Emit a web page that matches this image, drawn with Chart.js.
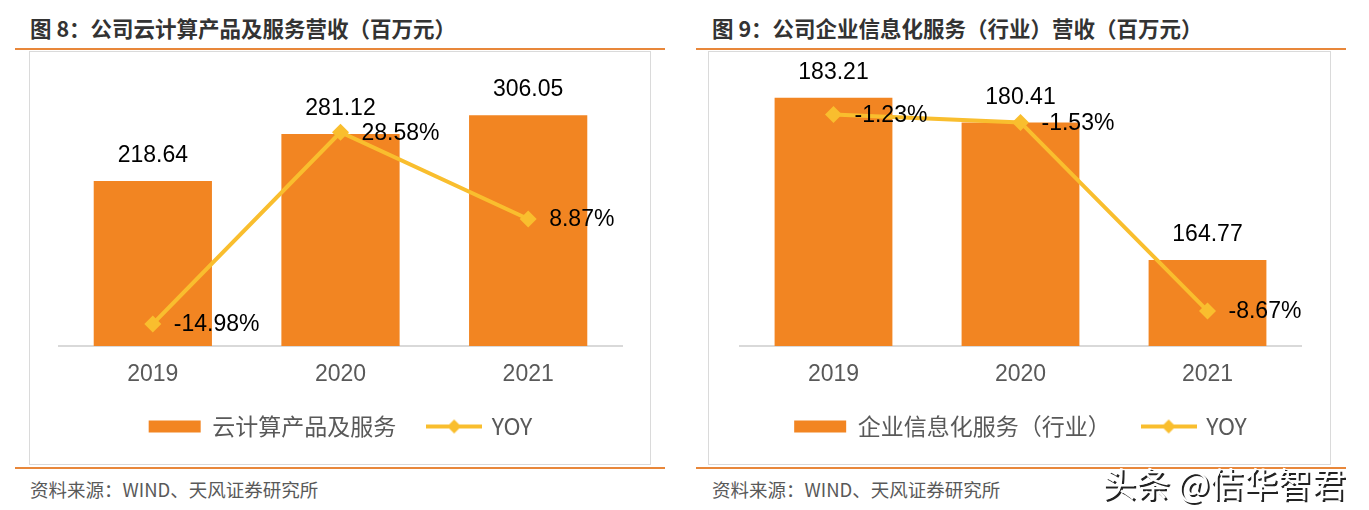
<!DOCTYPE html>
<html>
<head>
<meta charset="utf-8">
<style>
  body { margin: 0; background: #fff; width: 1369px; height: 510px; position: relative; overflow: hidden; }
  .title { position: absolute; top: 15px; font: bold 21.5px "Noto Sans CJK SC", sans-serif; color: #333; line-height: 26px; white-space: nowrap; }
  .rule { position: absolute; height: 2px; background: #E8873A; }
  .box { position: absolute; top: 51px; height: 414px; border: 1px solid #dadada; box-sizing: border-box; }
  canvas { position: absolute; top: 52px; }
  .source { position: absolute; top: 477px; font: 18.5px "Noto Sans CJK SC", sans-serif; color: #595959; line-height: 24px; white-space: nowrap; }
  .mark { position: absolute; left: 1102px; top: 462px; font: 34px "Noto Sans CJK SC", sans-serif; color: #fff; line-height: 42px; white-space: nowrap;
          text-shadow: 2px 2px 0 #222; }
</style>
</head>
<body>
<div class="title" style="left:30px">图 8：公司云计算产品及服务营收（百万元）</div>
<div class="rule" style="left:15px; top:48px; width:650px"></div>
<div class="box" style="left:29px; width:622px"></div>
<canvas id="cloudChart" width="620" height="412" style="left:30px"></canvas>
<div class="rule" style="left:15px; top:467px; width:650px"></div>
<div class="source" style="left:30px">资料来源：WIND、天风证券研究所</div>

<div class="title" style="left:712px">图 9：公司企业信息化服务（行业）营收（百万元）</div>
<div class="rule" style="left:696px; top:48px; width:650px"></div>
<div class="box" style="left:708px; width:623px"></div>
<canvas id="entChart" width="621" height="412" style="left:709px"></canvas>
<div class="rule" style="left:696px; top:467px; width:650px"></div>
<div class="source" style="left:712px">资料来源：WIND、天风证券研究所</div>

<div class="mark">头条 @佶华智君</div>

<script src="https://cdn.jsdelivr.net/npm/chart.js"></script>
<script>
const years = ['2019', '2020', '2021'];
const cloudRevenue = [218.64, 281.12, 306.05];
const cloudYoy = [-14.98, 28.58, 8.87];
const entRevenue = [183.21, 180.41, 164.77];
const entYoy = [-1.23, -1.53, -8.67];

const BAR_COLOR = '#F28522';
const LINE_COLOR = '#F9BE2E';

// legend icon for the YOY line: short line with a diamond
function yoyIcon() {
  const c = document.createElement('canvas');
  c.width = 56; c.height = 16;
  const g = c.getContext('2d');
  g.strokeStyle = LINE_COLOR; g.lineWidth = 4;
  g.beginPath(); g.moveTo(0, 8); g.lineTo(56, 8); g.stroke();
  g.fillStyle = LINE_COLOR;
  g.beginPath(); g.moveTo(21, 8); g.lineTo(28, 1); g.lineTo(35, 8); g.lineTo(28, 15); g.closePath(); g.fill();
  return c;
}
const icon = yoyIcon();

// value labels on bars and YOY points
const valueLabels = {
  id: 'valueLabels',
  afterDatasetsDraw(chart) {
    const ctx = chart.ctx;
    ctx.save();
    ctx.font = '23px "Liberation Sans", Arial, sans-serif';
    ctx.fillStyle = '#000';
    ctx.textBaseline = 'middle';
    chart.getDatasetMeta(0).data.forEach((bar, i) => {
      ctx.textAlign = 'center';
      ctx.fillText(chart.data.datasets[0].data[i].toFixed(2), bar.x, bar.y - 25);
    });
    chart.getDatasetMeta(1).data.forEach((pt, i) => {
      ctx.textAlign = 'left';
      ctx.fillText(chart.data.datasets[1].data[i].toFixed(2) + '%', pt.x + 21, pt.y + 1);
    });
    ctx.restore();
  }
};

function buildChart(canvasId, barLabel, bars, yoy, yRange, y1Range, padLeft, padRight) {
  const ctx = document.getElementById(canvasId).getContext('2d');
  return new Chart(ctx, {
    type: 'bar',
    data: {
      labels: years,
      datasets: [{
        label: barLabel,
        data: bars,
        backgroundColor: BAR_COLOR,
        borderWidth: 0,
        barPercentage: 0.63,
        categoryPercentage: 1,
        yAxisID: 'y',
        order: 1
      }, {
        type: 'line',
        label: 'YOY',
        data: yoy,
        borderColor: LINE_COLOR,
        backgroundColor: LINE_COLOR,
        borderWidth: 4,
        pointStyle: 'rectRot',
        pointRadius: 8.5,
        pointBorderWidth: 0,
        tension: 0,
        yAxisID: 'y1',
        order: 0
      }]
    },
    options: {
      responsive: false,
      animation: false,
      devicePixelRatio: 1,
      layout: { padding: { left: padLeft, right: padRight, top: 30, bottom: 16 } },
      scales: {
        x: {
          grid: { display: false, drawTicks: false },
          border: { display: true, color: '#d9d9d9', width: 2 },
          ticks: { color: '#595959', padding: 15, font: { size: 23, family: '"Liberation Sans", Arial, sans-serif' } },
          afterFit(s) { s.height = 37; }
        },
        y: { display: false, min: yRange[0], max: yRange[1] },
        y1: { display: false, min: y1Range[0], max: y1Range[1] }
      },
      plugins: {
        tooltip: { enabled: false },
        legend: {
          position: 'bottom',
          labels: {
            usePointStyle: true,
            pointStyleWidth: 52,
            boxHeight: 12,
            padding: 32,
            color: '#595959',
            font: { size: 23, family: '"Noto Sans CJK SC", sans-serif' },
            generateLabels(chart) {
              const items = Chart.defaults.plugins.legend.labels.generateLabels(chart);
              items.sort((a, b) => a.datasetIndex - b.datasetIndex);
              items.forEach(it => { it.pointStyle = it.datasetIndex === 1 ? icon : 'rect'; it.lineWidth = 0; });
              return items;
            }
          }
        }
      }
    },
    plugins: [valueLabels]
  });
}

buildChart('cloudChart', '云计算产品及服务', cloudRevenue, cloudYoy, [0, 350], [-20, 40], 29, 28);
buildChart('entChart', '企业信息化服务（行业）', entRevenue, entYoy, [155, 185], [-10, 0], 31, 29);
</script>
</body>
</html>
